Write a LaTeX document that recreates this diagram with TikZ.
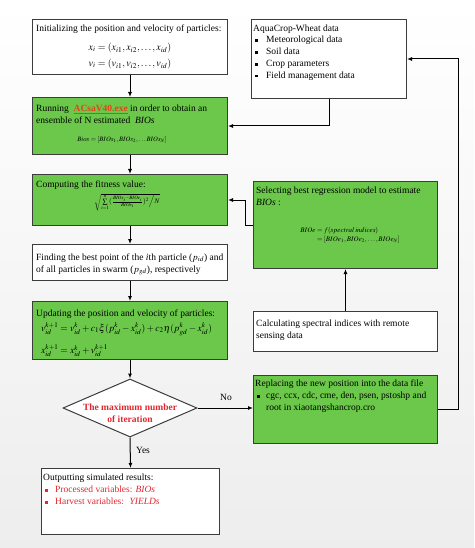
\documentclass[tikz,border=0pt]{standalone}
\usepackage{amsmath}
\usepackage{mathptmx}
\usepackage[no-math]{fontspec}
\setmainfont{Liberation Serif}
\usetikzlibrary{arrows.meta,shapes.geometric}
\definecolor{boxgreen}{HTML}{6BC84A}
\definecolor{boxline}{HTML}{3C3C3C}
\definecolor{accred}{HTML}{E3262E}
\definecolor{exered}{HTML}{E8401C}
\newcommand{\sqbullet}{\rule[0.7pt]{2.8pt}{2.8pt}}
\begin{document}
\begin{tikzpicture}[x=1pt,y=-1pt,
  box/.style={draw=boxline,line width=1pt,fill=white,anchor=north west,inner sep=0pt},
  gbox/.style={box,fill=boxgreen},
  txt/.style={anchor=north west,inner sep=0pt,align=left,font=\fontsize{9.5}{12}\selectfont},
  eq/.style={inner sep=0pt,font=\fontsize{10}{12}\selectfont},
  smalleq/.style={inner sep=0pt,font=\fontsize{6.7}{8}\selectfont},
  lbl/.style={inner sep=0pt,font=\fontsize{9.5}{11}\selectfont},
  conn/.style={draw=black,line width=1pt,-{Latex[length=5pt,width=4pt]}},
]
\useasboundingbox (0,0) rectangle (474,548);
\shade[top color=white,bottom color=black!7] (0,0) rectangle (474,548);

% left column
\node[box,minimum width=195,minimum height=55] (init) at (32,19) {};
\node[txt] (initt) at (36,24.5) {Initializing the position and velocity of particles:};
\node[eq] (initx) at (130,48) {$x_i=(x_{i1},x_{i2},\ldots,x_{id})$};
\node[eq] (initv) at (130,64) {$v_i=(v_{i1},v_{i2},\ldots,v_{id})$};

\node[gbox,minimum width=195,minimum height=57] (run) at (32,97) {};
\node[txt] (runt) at (36,104.5) {Running \ \textcolor{exered}{\textbf{\underline{ACsaV40.exe}}} in order to obtain an\\ensemble of N estimated \ \textit{BIOs}};
\node[smalleq] (runf) at (122,140) {$Bios=[BIOs_1,BIOs_2,\ldots BIOs_N]$};

\node[gbox,minimum width=195,minimum height=51] (fit) at (32,174) {};
\node[txt] (fitt) at (36,180.5) {Computing the fitness value:};
\node[inner sep=0pt,font=\fontsize{7}{8}\selectfont] (fitf) at (127,202) {$\sqrt{\sum\limits_{i=1}^{n}(\frac{BIOs_i-BIOe_i}{BIOe_i})^2\Big/N}$};

\node[box,minimum width=195,minimum height=36] (find) at (32,244) {};
\node[txt] (findt) at (36,253.5) {Finding the best point of the \textit{i}th particle ($p_{id}$) and\\of all particles in swarm ($p_{gd}$), respectively};

\node[gbox,minimum width=195,minimum height=58] (upd) at (32,301) {};
\node[txt] (updt) at (36,309.5) {Updating the position and velocity of particles:};
\node[eq,anchor=west,font=\fontsize{9.6}{12}\selectfont] (upda) at (41,329) {$v_{id}^{k+1}=v_{id}^{k}+c_1\xi(p_{id}^{k}-x_{id}^{k})+c_2\eta(p_{gd}^{k}-x_{id}^{k})$};
\node[eq,anchor=west,font=\fontsize{9.6}{12}\selectfont] (updb) at (41,351) {$x_{id}^{k+1}=x_{id}^{k}+v_{id}^{k+1}$};

\node[diamond,draw=boxline,line width=1pt,fill=white,minimum width=134,minimum height=58,inner sep=0pt] (dec) at (130,408) {};
\node[inner sep=0pt,align=center,text=accred,font=\bfseries\fontsize{9.5}{12}\selectfont] (dect) at (130,413) {The maximum number\\of iteration};

\node[box,minimum width=178,minimum height=66] (outp) at (41,468) {};
\node[txt] (outt) at (43,473.5) {Outputting simulated results:\\
\textcolor{accred}{\hspace*{2pt}\makebox[10pt][l]{\sqbullet}Processed variables: \textit{BIOs}}\\
\textcolor{accred}{\hspace*{2pt}\makebox[10pt][l]{\sqbullet}Harvest variables: \ \textit{YIELDs}}};

% right column
\node[box,minimum width=155,minimum height=79] (aqua) at (251,19) {};
\node[txt,font=\fontsize{9.5}{11.7}\selectfont] (aquat) at (253,24.5) {AquaCrop-Wheat data\\
\hspace*{2pt}\makebox[11pt][l]{\sqbullet}Meteorological data\\
\hspace*{2pt}\makebox[11pt][l]{\sqbullet}Soil data\\
\hspace*{2pt}\makebox[11pt][l]{\sqbullet}Crop parameters\\
\hspace*{2pt}\makebox[11pt][l]{\sqbullet}Field management data};

\node[gbox,minimum width=184,minimum height=87] (sel) at (253,181) {};
\node[txt] (selt) at (256,186.5) {Selecting best regression model to estimate\\\textit{BIOs} :};
\node[inner sep=0pt,font=\fontsize{7}{9}\selectfont] (self) at (350,235) {$\begin{aligned}BIOe&=f(spectral\,indices)\\[-3pt]&=[BIOe_1,BIOe_2,\ldots,BIOe_N]\end{aligned}$};

\node[box,minimum width=184,minimum height=40] (calc) at (253,311) {};
\node[txt] (calct) at (256,319.5) {Calculating spectral indices with remote\\sensing data};

\node[gbox,minimum width=184,minimum height=68] (rep) at (253,375) {};
\node[txt] (rept) at (255,379.5) {Replacing the new position into the data file\\
\hspace*{2pt}\makebox[9pt][l]{\sqbullet}cgc, ccx, cdc, cme, den, psen, pstoshp and\\
\hspace*{11pt}root in xiaotangshancrop.cro};

% connectors
\draw[conn] (init.south) -- (run.north);
\draw[conn] (run.south) -- (fit.north);
\draw[conn] (fit.south) -- (find.north);
\draw[conn] (find.south) -- (upd.north);
\draw[conn] (upd.south) -- (dec.north);
\draw[conn] (dec.south) -- (outp.north);
\draw[conn] (dec.east) -- (dec.east -| rep.west);
\node[lbl] (no) at (226,397) {No};
\node[lbl] (yes) at (143,450) {Yes};
\draw[conn] (aqua.south) |- (run.east);
\draw[conn] (sel.west) -- ++(-8,0) |- (fit.east);
\draw[conn] (calc.north) -- (sel.south);
\draw[conn] (rep.east) -- ++(20,0) |- (aqua.east);
\end{tikzpicture}
\end{document}
